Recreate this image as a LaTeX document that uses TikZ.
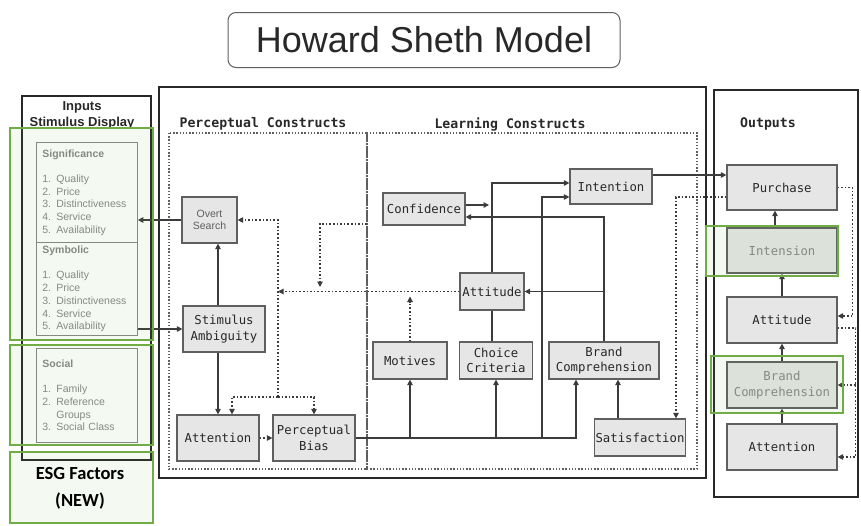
\documentclass[tikz,border=0pt]{standalone}
\usepackage{fontspec}
\setmainfont{Liberation Sans}
\setmonofont{DejaVu Sans Mono}
\newfontfamily\esgfont{Carlito}
\usetikzlibrary{arrows.meta,positioning,calc}
\definecolor{hsEdge}  {RGB}{ 95, 95, 95}
\definecolor{hsFill}  {RGB}{230,230,230}
\definecolor{hsLine}  {RGB}{ 60, 60, 60}
\definecolor{hsFrame} {RGB}{ 40, 40, 40}
\definecolor{hsText}  {RGB}{ 40, 40, 40}
\definecolor{hsTextL} {RGB}{135,135,135}
\definecolor{hsGreen} {RGB}{112,173, 71}

\begin{document}
\begin{tikzpicture}[x=1pt,y=-1pt,
  >={Triangle[length=5.5pt,width=5.5pt]},
  every node/.style={text=hsText},
  box/.style={draw=hsEdge,fill=hsFill,line width=1.2pt,align=center,inner sep=1pt,
              font=\fontsize{12.3}{15.5}\selectfont\ttfamily},
  inbox/.style={draw=hsTextL,line width=0.8pt,anchor=north west,align=left,
                text width=89pt,inner xsep=6pt,minimum width=101pt,text=hsTextL,
                font=\fontsize{10.5}{12.7}\selectfont},
  head/.style={font=\fontsize{13.2}{15}\selectfont\ttfamily\bfseries},
  frame/.style={draw=hsFrame,line width=1.8pt},
  zone/.style={draw=hsEdge,line width=1.1pt,dash pattern=on 1.4pt off 1.8pt},
  link/.style={draw=hsLine,line width=1.1pt},
  fb/.style={draw=hsLine,line width=1.1pt,dash pattern=on 1.6pt off 2pt},
  hl/.style={draw=hsGreen,line width=2.3pt,fill=hsGreen,fill opacity=0.08}
]
\useasboundingbox (0,0) rectangle (861,525);

\node[draw=hsEdge,line width=1pt,rounded corners=8pt,minimum width=392pt,
      minimum height=55pt,font=\fontsize{36}{40}\selectfont] (title) at (424,40)
   {Howard Sheth Model};

\draw[frame] (22,96) rectangle (151,460);
\draw[frame] (159,87) rectangle (706,478);
\draw[frame] (714,90) rectangle (858,497);
\draw[zone] (169,133) rectangle (367,469);
\draw[zone] (367,133) rectangle (697,469);

\node[align=center,font=\fontsize{13}{16}\selectfont\bfseries] (inhead) at (82,115)
   {Inputs\\Stimulus Display};
\node[head] (phead) at (263,124) {Perceptual Constructs};
\node[head] (lhead) at (510,124) {Learning Constructs};
\node[head] (ohead) at (768,124) {Outputs};

\node[inbox,minimum height=100pt] (sigbox) at (36,142)
   {\textbf{Significance}\\[12.7pt]1. Quality\\2. Price\\3. Distinctiveness\\4. Service\\5. Availability};
\node[inbox,minimum height=93pt] (symbox) at (36,242)
   {\textbf{Symbolic}\\[12.7pt]1. Quality\\2. Price\\3. Distinctiveness\\4. Service\\5. Availability};
\node[inbox,minimum height=94pt] (socbox) at (36,348)
   {\textbf{Social}\\[12.7pt]1. Family\\2. Reference\\\phantom{2. }Groups\\3. Social Class};

\node[box,minimum width=55pt,minimum height=46pt,text=hsEdge,
      font=\fontsize{10.5}{12}\selectfont] (ovsearch) at (209.5,220) {Overt\\Search};
\node[box,minimum width=82pt,minimum height=46pt] (stimamb) at (224,329) {Stimulus\\Ambiguity};
\node[box,minimum width=82pt,minimum height=46pt] (pattn) at (218,438) {Attention};
\node[box,minimum width=82pt,minimum height=46pt] (pbias) at (314,438) {Perceptual\\Bias};

\node[box,minimum width=82pt,minimum height=32pt] (conf) at (424,209) {Confidence};
\node[box,minimum width=82pt,minimum height=35pt] (intent) at (611,186.5) {Intention};
\node[box,minimum width=64pt,minimum height=37pt] (lattit) at (492,291.5) {Attitude};
\node[box,minimum width=74pt,minimum height=37pt] (motives) at (410,360.5) {Motives};
\node[box,minimum width=73pt,minimum height=37pt] (choice) at (496,360.5) {Choice\\Criteria};
\node[box,minimum width=110pt,minimum height=37pt] (brandc) at (604,360.5) {Brand\\Comprehension};
\node[box,minimum width=88pt,minimum height=37pt] (satis) at (640,437.5) {Satisfaction};

\node[box,minimum width=110pt,minimum height=45pt] (purch) at (782,187.5) {Purchase};
\node[box,minimum width=110pt,minimum height=45pt,text=hsTextL] (ointens) at (782,250.5) {Intension};
\node[box,minimum width=110pt,minimum height=46pt] (oattit) at (782,320) {Attitude};
\node[box,minimum width=110pt,minimum height=46pt,text=hsTextL] (obrand) at (782,385) {Brand\\Comprehension};
\node[box,minimum width=110pt,minimum height=46pt] (oattn) at (782,447) {Attention};

\coordinate (fbj) at (278,397);
\coordinate (lcfb) at (367,224);
\coordinate (lcdrop) at (320,287);
\coordinate (ljoin) at (542,438);

\draw[link,->] (ovsearch.west) -- (ovsearch.west -| sigbox.east);
\draw[link,->] (stimamb.west -| symbox.east) -- (stimamb.west);
\draw[link,->] ([xshift=-6pt]stimamb.north) -- ([xshift=-6pt]stimamb.north |- ovsearch.south);
\draw[link,->] (stimamb.south -| pattn.north) -- (pattn.north);
\draw[fb,->] (pattn.east) -- (pbias.west);
\draw[fb,->] (fbj) |- (ovsearch.east);
\draw[fb,->] (fbj) -| ([xshift=14pt]pattn.north);
\draw[fb,->] (fbj) -| (pbias.north);
\draw[fb,->] (lattit.west) -- (lattit.west -| fbj);
\draw[fb,->] (lcfb) -| (lcdrop);
\draw[fb,->] (motives.north) -- ([yshift=-5pt]motives.north |- lattit.west);

\draw[link,->] (pbias.east) -| ([xshift=-28pt]brandc.south);
\draw[link,->] (motives.south |- pbias.east) -- (motives.south);
\draw[link,->] (choice.south |- pbias.east) -- (choice.south);
\draw[link,->] (ljoin) |- ([yshift=-10.5pt]intent.west);
\draw[link] (lattit.south |- choice.north) -- (lattit.south);
\draw[link,->] (lattit.north) |- ([yshift=3.5pt]intent.west);
\draw[link,->,shorten >=3pt] ([yshift=4pt]conf.east) -- ([yshift=4pt]conf.east -| lattit.north);
\draw[link,->] (brandc.north) |- ([yshift=-8pt]conf.east);
\draw[link,->] (brandc.north |- lattit.east) -- (lattit.east);
\draw[link,->] ([xshift=-22pt]satis.north) -- ([xshift=-22pt]satis.north |- brandc.south);

\draw[link,->] ([yshift=11.5pt]intent.east) -- ([yshift=11.5pt]intent.east -| purch.west);
\draw[fb,->] ([yshift=-9.5pt]purch.west) -| ([xshift=36pt]satis.north);
\draw[link,->] ([xshift=-7pt]ointens.north) -- ([xshift=-7pt]purch.south);
\draw[link,->] (oattit.north) -- (ointens.south);
\draw[link,->] (obrand.north) -- (oattit.south);
\draw[link,->] (oattn.north) -- (obrand.south);
\draw[fb,->] (purch.east) -- ++(15,0) |- ([yshift=4pt]oattit.east);
\draw[fb,->] ([yshift=-8pt]oattit.east) -- ++(18,0) |- ([yshift=-10pt]oattn.east);
\draw[fb,->] ([xshift=18pt]oattit.east |- obrand.east) -- (obrand.east);

\draw[hl] (10,128) rectangle (153,340);
\draw[hl] (10,345) rectangle (153,445);
\draw[hl] (10,452) rectangle (153,523);
\draw[hl] (706,226) rectangle (838,276);
\draw[hl] (711,356) rectangle (843,413);

\node[align=center,text=black,font=\esgfont\fontsize{18.5}{27}\selectfont\bfseries] (esg) at (80,488)
   {ESG Factors\\(NEW)};
\end{tikzpicture}
\end{document}
